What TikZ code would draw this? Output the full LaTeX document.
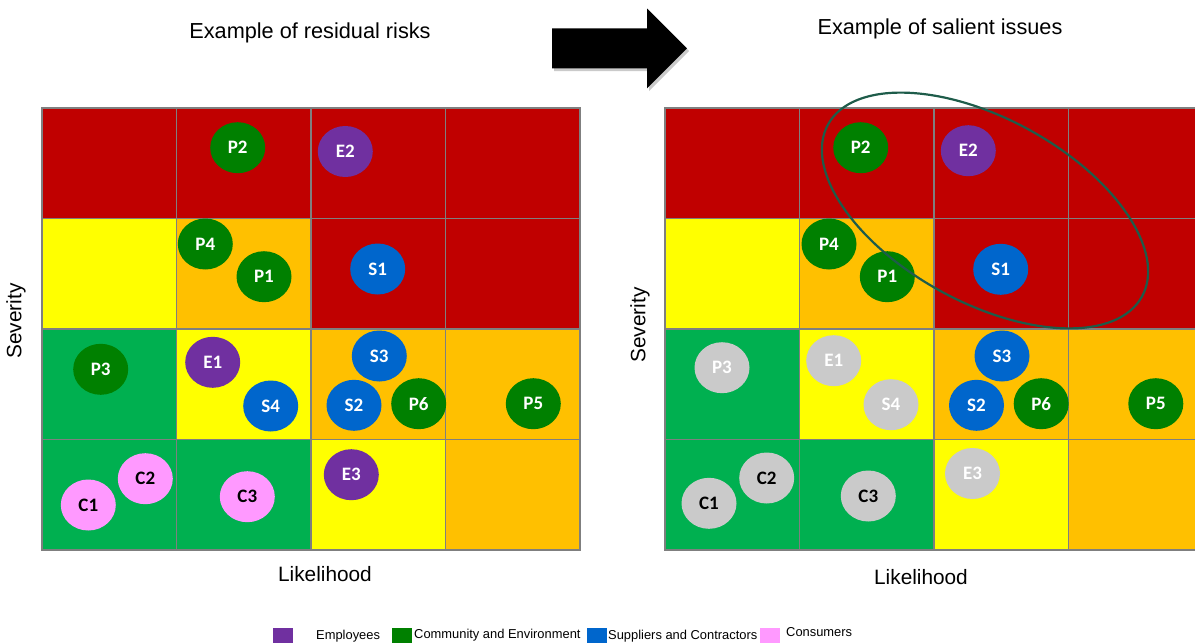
\documentclass[tikz,border=0pt]{standalone}
\usepackage{fontspec}
\setmainfont{Liberation Sans}
\newfontfamily\calib{Carlito}
\usetikzlibrary{shapes.geometric}
\definecolor{cRed}{HTML}{C00000}
\definecolor{cYel}{HTML}{FFFF00}
\definecolor{cOra}{HTML}{FFC000}
\definecolor{cGrn}{HTML}{00B050}
\definecolor{bGreen}{HTML}{008000}
\definecolor{bPurple}{HTML}{7030A0}
\definecolor{bBlue}{HTML}{0066CC}
\definecolor{bPink}{HTML}{FF99FF}
\definecolor{bGray}{HTML}{CACACA}
\definecolor{gridline}{HTML}{7F7F7F}
\definecolor{ringgreen}{HTML}{1E5C4A}
\begin{document}
\begin{tikzpicture}[x=1pt,y=-1pt,
  cellbox/.style={draw=gridline, line width=1.4pt},
  bub/.style={ellipse, minimum width=55pt, minimum height=51pt, inner sep=0pt,
    text=white, font=\calib\bfseries\fontsize{19}{21}\selectfont},
  dark/.style={text=black},
  title/.style={font=\fontsize{21.7}{25}\selectfont},
  axis/.style={font=\fontsize{20.8}{24}\selectfont},
  legtext/.style={font=\fontsize{12.9}{14}\selectfont, anchor=west, inner sep=0pt},
  legsq/.style={minimum width=20pt, minimum height=16pt, inner sep=0pt, anchor=north west}
]
\useasboundingbox (0,0) rectangle (1195,643);
\begin{scope}
\clip (0,0) rectangle (1195,643);
% grids
\foreach \ox in {0,623}{
  \foreach \col/\row/\clr in {
    0/0/cRed,1/0/cRed,2/0/cRed,3/0/cRed,
    0/1/cYel,1/1/cOra,2/1/cRed,3/1/cRed,
    0/2/cGrn,1/2/cYel,2/2/cOra,3/2/cOra,
    0/3/cGrn,1/3/cGrn,2/3/cYel,3/3/cOra}{
    \filldraw[cellbox, fill=\clr] ({42+\ox+134.5*\col},{108+110.5*\row}) rectangle ++(134.5,110.5);
  }
}
\end{scope}

% titles
\node[title] (t1) at (310,33) {Example of residual risks};
\node[title] (t2) at (940,29) {Example of salient issues};
\node[axis, rotate=90] (sev1) at (16,321) {Severity};
\node[axis, rotate=90] (sev2) at (640,325) {Severity};
\node[axis] (lik1) at (325,574) {Likelihood};
\node[axis] (lik2) at (921,577) {Likelihood};

% arrow
\fill[black!35, opacity=0.6] (554,31)--(649,31)--(649,11)--(689,51)--(649,91)--(649,71)--(554,71)--cycle;
\fill[black] (552,28.3)--(647,28.3)--(647,8.5)--(687,48.3)--(647,88.3)--(647,68.3)--(552,68.3)--cycle;

% left bubbles
\node[bub, fill=bGreen]  (LP2) at (237.7,147.7) {P2};
\node[bub, fill=bPurple] (LE2) at (345.3,151.5) {E2};
\node[bub, fill=bGreen]  (LP4) at (205.3,244) {P4};
\node[bub, fill=bGreen]  (LP1) at (264,276.7) {P1};
\node[bub, fill=bBlue]   (LS1) at (377.7,269) {S1};
\node[bub, fill=bGreen]  (LP3) at (100.7,369.3) {P3};
\node[bub, fill=bPurple] (LE1) at (212.7,362.3) {E1};
\node[bub, fill=bBlue]   (LS4) at (270.7,406) {S4};
\node[bub, fill=bBlue]   (LS3) at (379.3,356) {S3};
\node[bub, fill=bBlue]   (LS2) at (354,405.3) {S2};
\node[bub, fill=bGreen]  (LP6) at (418.7,403.7) {P6};
\node[bub, fill=bGreen]  (LP5) at (533.3,403.7) {P5};
\node[bub, fill=bPurple] (LE3) at (351.3,474.7) {E3};
\node[bub, fill=bPink, dark] (LC2) at (145.3,478.7) {C2};
\node[bub, fill=bPink, dark] (LC1) at (88.3,505) {C1};
\node[bub, fill=bPink, dark] (LC3) at (247.3,496.7) {C3};

% right bubbles
\node[bub, fill=bGreen]  (RP2) at (860.7,147.7) {P2};
\node[bub, fill=bPurple] (RE2) at (968.3,150.7) {E2};
\node[bub, fill=bGreen]  (RP4) at (829,244) {P4};
\node[bub, fill=bGreen]  (RP1) at (887.3,276.7) {P1};
\node[bub, fill=bBlue]   (RS1) at (1000.7,269.3) {S1};
\node[bub, fill=bGray]   (RP3) at (722,367.7) {P3};
\node[bub, fill=bGray]   (RE1) at (833.7,360.7) {E1};
\node[bub, fill=bGray]   (RS4) at (891,404.7) {S4};
\node[bub, fill=bBlue]   (RS3) at (1002,356) {S3};
\node[bub, fill=bBlue]   (RS2) at (976.5,405.3) {S2};
\node[bub, fill=bGreen]  (RP6) at (1041.2,403.7) {P6};
\node[bub, fill=bGreen]  (RP5) at (1155.8,403.7) {P5};
\node[bub, fill=bGray]   (RE3) at (972.5,473.5) {E3};
\node[bub, fill=bGray, dark] (RC2) at (766.7,478) {C2};
\node[bub, fill=bGray, dark] (RC1) at (709,503.3) {C1};
\node[bub, fill=bGray, dark] (RC3) at (868.3,496) {C3};

% salient ring
\draw[ringgreen, line width=2.2pt] (985,210.5) ellipse [x radius=179, y radius=92, rotate=-28.7];

% legend
\node[legsq, fill=bPurple] (sqE) at (273,628) {};
\node[legtext] (lgE) at (316,636.5) {Employees};
\node[legsq, fill=bGreen] (sqP) at (392,628) {};
\node[legtext] (lgP) at (414,635.5) {Community and Environment};
\node[legsq, fill=bBlue] (sqS) at (587,628) {};
\node[legtext] (lgS) at (608,636) {Suppliers and Contractors};
\node[legsq, fill=bPink] (sqC) at (760,628) {};
\node[legtext] (lgC) at (786,632) {Consumers};
\end{tikzpicture}
\end{document}
